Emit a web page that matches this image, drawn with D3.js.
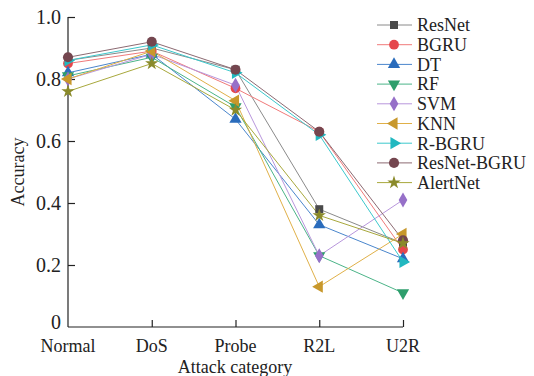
<!DOCTYPE html>
<html>
<head>
<meta charset="utf-8">
<script src="https://cdn.jsdelivr.net/npm/d3@7"></script>
<style>
  body { margin: 0; background: #fff; }
</style>
</head>
<body>
<div id="chart"></div>
<script>
const categories = ["Normal", "DoS", "Probe", "R2L", "U2R"];
const yTicks = [0, 0.2, 0.4, 0.6, 0.8, 1.0];

const resnet = [0.86, 0.90, 0.83, 0.38, 0.27];
const bgru = [0.85, 0.89, 0.77, 0.63, 0.25];
const dt = [0.82, 0.88, 0.67, 0.33, 0.22];
const rf = [0.81, 0.87, 0.71, 0.23, 0.11];
const svm = [0.80, 0.88, 0.78, 0.23, 0.41];
const knn = [0.80, 0.89, 0.73, 0.13, 0.30];
const rbgru = [0.86, 0.91, 0.82, 0.62, 0.21];
const resnetBgru = [0.87, 0.92, 0.83, 0.63, 0.28];
const alertnet = [0.76, 0.85, 0.70, 0.36, 0.27];

const series = [
  { name: "ResNet", values: resnet, line: "#8a8a8a", mark: "#4a4a4a", shape: d3.symbolSquare, size: 64, rot: 0 },
  { name: "BGRU", values: bgru, line: "#f07a7a", mark: "#e5474c", shape: d3.symbolCircle, size: 75, rot: 0 },
  { name: "DT", values: dt, line: "#4a86cc", mark: "#2a6cbc", shape: d3.symbolTriangle, size: 65, rot: 0 },
  { name: "RF", values: rf, line: "#4bb488", mark: "#2e9e6c", shape: d3.symbolTriangle, size: 65, rot: 180 },
  { name: "SVM", values: svm, line: "#b896dc", mark: "#9670c8", shape: d3.symbolDiamond, size: 65, rot: 0 },
  { name: "KNN", values: knn, line: "#e0b048", mark: "#c8982c", shape: d3.symbolTriangle, size: 65, rot: -90 },
  { name: "R-BGRU", values: rbgru, line: "#3cc8cc", mark: "#22b8c0", shape: d3.symbolTriangle, size: 65, rot: 90 },
  { name: "ResNet-BGRU", values: resnetBgru, line: "#8c6a72", mark: "#74464f", shape: d3.symbolCircle, size: 80, rot: 0 },
  { name: "AlertNet", values: alertnet, line: "#a8a83c", mark: "#8a8a2a", shape: d3.symbolStar, size: 55, rot: 0 }
];

const width = 534, height = 376;
const svg = d3.select("#chart").append("svg")
  .attr("width", width).attr("height", height)
  .style("font-family", "\"Liberation Serif\"");

const x = d3.scalePoint(categories, [68, 403]);
const y = d3.scaleLinear([0, 1], [327, 17]);

// axes with inward ticks
const yAxis = svg.append("g").attr("transform", "translate(68,0)")
  .call(d3.axisRight(y).tickValues(yTicks).tickSize(7).tickFormat(""));
yAxis.select(".domain").attr("d", `M0,${y(1)}V${y(0)}`);
const xAxis = svg.append("g").attr("transform", `translate(0,${y(0)})`)
  .call(d3.axisTop(x).tickSize(7).tickFormat(""));
xAxis.select(".domain").attr("d", `M68,0H403`);
svg.selectAll(".domain, .tick line").attr("stroke", "#222").attr("stroke-width", 1.2);
xAxis.selectAll(".tick").filter((d) => d === "Normal").remove();
yAxis.selectAll(".tick").filter((d) => d === 0).remove();

const txt = "#222";

svg.append("g").selectAll("text").data(yTicks).join("text")
  .attr("x", 61)
  .attr("y", (d) => (d === 0 ? y(d) - 5 : y(d)))
  .attr("dy", "0.35em")
  .attr("text-anchor", "end")
  .attr("font-size", 20)
  .attr("fill", txt)
  .text((d) => (d === 0 ? "0" : d.toFixed(1)));

svg.append("g").selectAll("text").data(categories).join("text")
  .attr("x", (d) => x(d))
  .attr("y", 352)
  .attr("text-anchor", "middle")
  .attr("font-size", 18)
  .attr("fill", txt)
  .text((d) => d);

svg.append("text").attr("x", 235).attr("y", 373)
  .attr("text-anchor", "middle").attr("font-size", 18).attr("fill", txt)
  .text("Attack category");
svg.append("text")
  .attr("transform", "translate(24,172) rotate(-90)")
  .attr("text-anchor", "middle").attr("font-size", 18).attr("fill", txt)
  .text("Accuracy");

const line = d3.line().x((d, i) => x(categories[i])).y((d) => y(d));

series.forEach((s) => {
  svg.append("path").datum(s.values)
    .attr("d", line)
    .attr("fill", "none")
    .attr("stroke", s.line)
    .attr("stroke-width", 1);
});

series.forEach((s) => {
  svg.append("g").selectAll("path").data(s.values).join("path")
    .attr("d", d3.symbol(s.shape, s.size))
    .attr("transform", (d, i) => `translate(${x(categories[i])},${y(d)}) rotate(${s.rot})`)
    .attr("fill", s.mark);
});

// legend
const legend = svg.append("g");
series.forEach((s, i) => {
  const ly = 25 + i * 19.7;
  legend.append("line").attr("x1", 377).attr("x2", 412).attr("y1", ly).attr("y2", ly)
    .attr("stroke", s.line).attr("stroke-width", 1);
  legend.append("path").attr("d", d3.symbol(s.shape, s.size))
    .attr("transform", `translate(394,${ly}) rotate(${s.rot})`)
    .attr("fill", s.mark);
  legend.append("text").attr("x", 417).attr("y", ly).attr("dy", "0.35em")
    .attr("font-size", 18).attr("fill", txt).text(s.name);
});
</script>
</body>
</html>
